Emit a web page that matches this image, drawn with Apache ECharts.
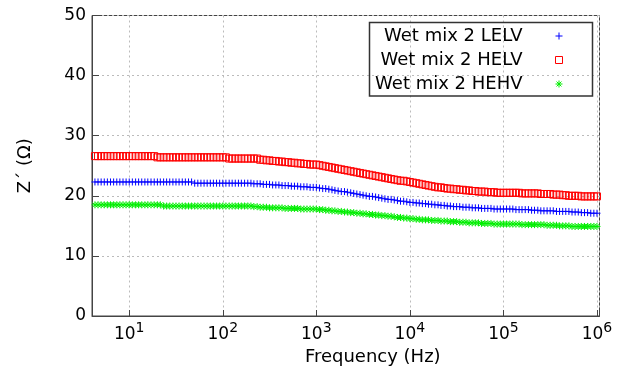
<!DOCTYPE html>
<html>
<head>
<meta charset="utf-8">
<script src="https://cdn.jsdelivr.net/npm/echarts@6/dist/echarts.min.js"></script>
<style>html,body{margin:0;padding:0;background:#fff}#c{width:622px;height:374px}</style>
</head>
<body>
<div id="c"></div>
<script>
// Frequency (Hz)
const FREQ = [
  3.98,4.30,4.64,5.01,5.41,5.84,6.31,6.81,7.36,7.94,8.58,9.26,
  10.0,10.8,11.7,12.6,13.6,14.7,15.8,17.1,18.5,20.0,21.5,23.3,25.1,27.1,29.3,31.6,34.1,36.9,39.8,43.0,46.4,50.1,54.1,58.4,63.1,68.1,73.6,79.4,85.8,92.6,
  100,108,117,126,136,147,158,171,185,200,215,233,251,271,293,316,341,369,398,430,464,501,541,584,631,681,736,794,858,926,
  1000,1080,1170,1260,1360,1470,1580,1710,1850,2000,2150,2330,2510,2710,2930,3160,3410,3690,3980,4300,4640,5010,5410,5840,6310,6810,7360,7940,8580,9260,
  1.00e4,1.08e4,1.17e4,1.26e4,1.36e4,1.47e4,1.58e4,1.71e4,1.85e4,2.00e4,2.15e4,2.33e4,2.51e4,2.71e4,2.93e4,3.16e4,3.41e4,3.69e4,3.98e4,4.30e4,4.64e4,5.01e4,5.41e4,5.84e4,6.31e4,6.81e4,7.36e4,7.94e4,8.58e4,9.26e4,
  1.00e5,1.08e5,1.17e5,1.26e5,1.36e5,1.47e5,1.58e5,1.71e5,1.85e5,2.00e5,2.15e5,2.33e5,2.51e5,2.71e5,2.93e5,3.16e5,3.41e5,3.69e5,3.98e5,4.30e5,4.64e5,5.01e5,5.41e5,5.84e5,6.31e5,6.81e5,7.36e5,7.94e5,8.58e5,9.26e5,
  1.00e6
];
// Z' (Ohm) - Wet mix 2 LELV
const LELV = [
  22.3,22.3,22.3,22.3,22.3,22.3,22.3,22.3,22.3,22.3,22.3,22.3,
  22.3,22.3,22.3,22.3,22.3,22.3,22.3,22.3,22.3,22.3,22.3,22.3,22.3,22.3,22.3,22.3,22.3,22.3,22.3,22.3,22.3,22.1,22.1,22.1,22.1,22.1,22.1,22.1,22.1,22.1,
  22.1,22.1,22.1,22.1,22.1,22.1,22.1,22.1,22.1,22.1,22.0,22.0,22.0,21.9,21.9,21.9,21.8,21.8,21.8,21.7,21.7,21.7,21.6,21.6,21.6,21.5,21.5,21.5,21.4,21.4,
  21.4,21.3,21.2,21.2,21.1,21.0,20.9,20.8,20.7,20.7,20.6,20.5,20.4,20.3,20.2,20.1,20.0,19.9,19.9,19.8,19.7,19.6,19.5,19.4,19.4,19.3,19.2,19.1,19.1,19.0,
  18.9,18.9,18.8,18.8,18.7,18.7,18.6,18.6,18.5,18.5,18.4,18.4,18.3,18.3,18.2,18.2,18.2,18.1,18.1,18.1,18.0,18.0,18.0,17.9,17.9,17.9,17.9,17.8,17.8,17.8,
  17.8,17.8,17.8,17.8,17.7,17.7,17.7,17.7,17.7,17.6,17.6,17.6,17.5,17.5,17.5,17.5,17.5,17.4,17.4,17.4,17.4,17.4,17.3,17.3,17.3,17.2,17.2,17.2,17.1,17.1,
  17.1
];
// Z' (Ohm) - Wet mix 2 HELV
const HELV = [
  26.6,26.6,26.6,26.6,26.6,26.6,26.6,26.6,26.6,26.6,26.6,26.6,
  26.6,26.6,26.6,26.6,26.6,26.6,26.6,26.6,26.6,26.4,26.4,26.4,26.4,26.4,26.4,26.4,26.4,26.4,26.4,26.4,26.4,26.4,26.4,26.4,26.4,26.4,26.4,26.4,26.4,26.4,
  26.4,26.4,26.2,26.2,26.2,26.2,26.2,26.2,26.2,26.2,26.2,26.2,26.0,26.0,25.9,25.9,25.8,25.8,25.7,25.7,25.6,25.6,25.5,25.5,25.4,25.4,25.3,25.3,25.2,25.2,
  25.2,25.1,25.0,24.9,24.8,24.7,24.6,24.5,24.4,24.3,24.2,24.1,24.0,23.9,23.8,23.7,23.6,23.5,23.4,23.3,23.2,23.1,23.0,22.9,22.8,22.7,22.6,22.5,22.5,22.4,
  22.3,22.2,22.1,22.0,21.9,21.8,21.7,21.6,21.5,21.4,21.4,21.3,21.2,21.2,21.1,21.1,21.0,21.0,20.9,20.9,20.8,20.8,20.7,20.7,20.7,20.6,20.6,20.6,20.5,20.5,
  20.5,20.5,20.5,20.5,20.5,20.5,20.4,20.4,20.4,20.4,20.4,20.4,20.3,20.3,20.3,20.3,20.2,20.2,20.2,20.1,20.1,20.0,20.0,20.0,20.0,19.9,19.9,19.9,19.9,19.9,
  19.9
];
// Z' (Ohm) - Wet mix 2 HEHV
const HEHV = [
  18.5,18.5,18.5,18.5,18.5,18.5,18.5,18.5,18.5,18.5,18.5,18.5,
  18.5,18.5,18.5,18.5,18.5,18.5,18.5,18.5,18.5,18.5,18.5,18.3,18.3,18.3,18.3,18.3,18.3,18.3,18.3,18.3,18.3,18.3,18.3,18.3,18.3,18.3,18.3,18.3,18.3,18.3,
  18.3,18.3,18.3,18.3,18.3,18.3,18.3,18.3,18.3,18.3,18.2,18.2,18.1,18.1,18.1,18.0,18.0,18.0,18.0,18.0,17.9,17.9,17.9,17.9,17.9,17.8,17.8,17.8,17.8,17.8,
  17.8,17.7,17.7,17.6,17.6,17.5,17.5,17.4,17.4,17.3,17.3,17.2,17.2,17.1,17.1,17.0,17.0,16.9,16.9,16.8,16.8,16.7,16.7,16.6,16.6,16.5,16.4,16.4,16.3,16.3,
  16.2,16.2,16.1,16.1,16.0,16.0,16.0,15.9,15.9,15.9,15.8,15.8,15.8,15.7,15.7,15.7,15.6,15.6,15.6,15.5,15.5,15.5,15.5,15.4,15.4,15.4,15.4,15.3,15.3,15.3,
  15.3,15.3,15.3,15.3,15.3,15.3,15.2,15.2,15.2,15.2,15.2,15.2,15.2,15.2,15.1,15.1,15.1,15.1,15.0,15.0,15.0,15.0,14.9,14.9,14.9,14.9,14.9,14.9,14.9,14.9,
  14.9
];
const SERIES_NAMES = ['Wet mix 2 LELV', 'Wet mix 2 HELV', 'Wet mix 2 HEHV'];
const SERIES_COLORS = ['#0000ff', '#ff0000', '#00ee00'];
const Y_TICKS = [0, 10, 20, 30, 40, 50];

const FONT = 'DejaVu Sans';
const pairs = arr => FREQ.map((f, i) => [f, arr[i]]);

const PLUS = 'path://M0,5L10,5M5,0L5,10';
const STAR = 'path://M0,5L10,5M5,0L5,10M1.5,1.5L8.5,8.5M8.5,1.5L1.5,8.5';
const SYMBOLS = [PLUS, 'rect', STAR];
const strokeStyle = i => ({color: 'none', borderColor: SERIES_COLORS[i], borderWidth: 1, opacity: 1});

const chart = echarts.init(document.getElementById('c'), null, {renderer: 'canvas'});
chart.setOption({
  animation: false,
  backgroundColor: '#fff',
  grid: {left: 92, right: 22.5, top: 15.5, bottom: 58, show: true, borderColor: '#444', borderWidth: 1, backgroundColor: 'transparent'},
  xAxis: {
    type: 'log', logBase: 10, min: 4, max: 1.064e6,
    name: 'Frequency (Hz)', nameLocation: 'middle', nameGap: 30,
    nameTextStyle: {fontFamily: FONT, fontSize: 18, color: '#000', padding: [0, 0, 0, 54]},
    axisLine: {lineStyle: {color: '#444', width: 1}},
    axisTick: {inside: true, length: 6, lineStyle: {color: '#444'}},
    minorTick: {show: false},
    splitLine: {show: true, lineStyle: {color: '#bbb', type: [2, 3], width: 1}},
    axisLabel: {
      margin: 5,
      formatter: v => {
        const e = Math.log10(v);
        if (Math.abs(e - Math.round(e)) > 0.01) return '';
        return '{b|10}{s|' + Math.round(e) + '}';
      },
      rich: {
        b: {fontFamily: FONT, fontSize: 17, color: '#000', verticalAlign: 'bottom', lineHeight: 22},
        s: {fontFamily: FONT, fontSize: 14, color: '#000', verticalAlign: 'top', lineHeight: 22, padding: [0, 0, 8, 0]}
      }
    }
  },
  yAxis: {
    type: 'value', min: Y_TICKS[0], max: Y_TICKS[Y_TICKS.length - 1], interval: 10,
    name: 'Z´ (Ω)', nameLocation: 'middle', nameGap: 58, nameRotate: 90,
    nameTextStyle: {fontFamily: FONT, fontSize: 18, color: '#000'},
    axisLine: {show: true, lineStyle: {color: '#444', width: 1}},
    axisTick: {show: true, inside: true, length: 7, lineStyle: {color: '#444'}},
    splitLine: {show: true, lineStyle: {color: '#bbb', type: [2, 3], width: 1}},
    axisLabel: {fontFamily: FONT, fontSize: 17, color: '#000', margin: 6}
  },
  legend: {
    orient: 'vertical', right: 52, top: 21, align: 'right',
    itemWidth: 7, itemHeight: 7, itemGap: 4,
    textStyle: {fontFamily: FONT, fontSize: 18, color: '#000', lineHeight: 20, width: 152, align: 'right', padding: [0, 28, 0, 0]},
    data: SERIES_NAMES.map((n, i) => ({name: n, icon: SYMBOLS[i], itemStyle: strokeStyle(i)}))
  },
  graphic: [{
    type: 'rect', shape: {x: 369.5, y: 22.5, width: 223, height: 73.5},
    style: {fill: 'none', stroke: '#333', lineWidth: 1.5}, z: 100
  }],
  series: SERIES_NAMES.map((n, i) => ({
    name: n, type: 'scatter', data: pairs([LELV, HELV, HEHV][i]),
    symbol: SYMBOLS[i], symbolSize: 7, itemStyle: strokeStyle(i)
  }))
});
</script>
</body>
</html>
